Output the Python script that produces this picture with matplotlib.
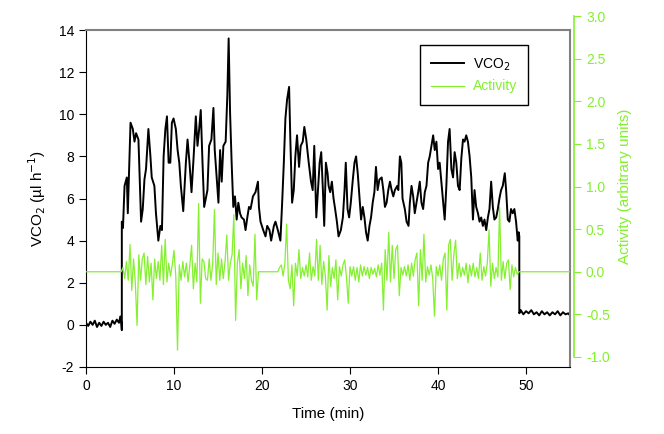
import matplotlib
matplotlib.use('Agg')
import matplotlib.pyplot as plt
import numpy as np

plt.rcParams['font.family'] = ['Liberation Sans', 'DejaVu Sans']
plt.rcParams['axes.unicode_minus'] = False

GREEN = '#84F030'

# VCO2 trace (min, ul/h)
vco2_t = [0.0, 0.25, 0.5, 0.75, 1.0, 1.25, 1.5, 1.75, 2.0, 2.25, 2.5, 2.75, 3.0, 3.25, 3.5, 3.75, 3.9, 4.0, 4.07,
          4.07, 4.2, 4.38, 4.64, 4.75, 5.06, 5.32, 5.51, 5.69, 5.96, 6.26, 6.45, 6.64, 6.82, 7.09, 7.32, 7.47, 7.77,
          7.95, 8.22, 8.45, 8.63, 8.82, 9.02, 9.20, 9.39, 9.58, 9.76, 9.95, 10.21, 10.41, 10.60, 10.78, 11.05,
          11.35, 11.54, 11.76, 11.99, 12.22, 12.48, 12.67, 12.86, 13.04, 13.24, 13.43, 13.61, 13.80, 13.99,
          14.25, 14.48, 14.63, 14.82, 15.05, 15.24, 15.42, 15.61, 15.87, 16.06, 16.21, 16.37, 16.55, 16.74,
          16.93, 17.12, 17.31, 17.50, 17.68, 17.95, 18.13, 18.33, 18.52, 18.70, 18.97, 19.26, 19.54, 19.65,
          19.83, 20.14, 20.40, 20.59, 20.85, 21.04, 21.35, 21.53, 21.80, 22.09, 22.29, 22.48, 22.66, 22.85,
          23.08, 23.22, 23.42, 23.61, 23.79, 23.98, 24.21, 24.40, 24.63, 24.81, 25.03, 25.31, 25.57, 25.76,
          25.94, 26.17, 26.36, 26.55, 26.73, 26.92, 27.07, 27.26, 27.45, 27.57, 27.75, 27.94, 28.13, 28.31,
          28.51, 28.70, 28.96, 29.19, 29.38, 29.52, 29.72, 29.90, 30.09, 30.32, 30.51, 30.69, 30.88, 31.07,
          31.26, 31.45, 31.64, 31.82, 32.01, 32.21, 32.39, 32.58, 32.77, 32.95, 33.14, 33.34, 33.60, 33.79,
          33.97, 34.16, 34.35, 34.54, 34.73, 34.92, 35.10, 35.37, 35.49, 35.67, 35.83, 35.97, 36.23, 36.43,
          36.65, 36.80, 36.99, 37.18, 37.36, 37.56, 37.75, 37.93, 38.12, 38.31, 38.50, 38.69, 38.88, 39.06,
          39.25, 39.45, 39.63, 39.82, 40.01, 40.19, 40.38, 40.58, 40.76, 40.95, 41.14, 41.32, 41.52, 41.71,
          41.89, 42.08, 42.27, 42.46, 42.65, 42.84, 43.02, 43.21, 43.40, 43.59, 43.78, 43.97, 44.15, 44.34,
          44.54, 44.72, 44.91, 45.10, 45.28, 45.48, 45.67, 45.85, 46.04, 46.23, 46.41, 46.61, 46.80, 46.98,
          47.17, 47.36, 47.59, 47.74, 47.93, 48.11, 48.30, 48.49, 48.68, 48.87, 49.06, 49.17, 49.24,
          49.24, 49.4, 49.7, 50.0, 50.3, 50.6, 50.9, 51.2, 51.5, 51.8, 52.1, 52.4, 52.7, 53.0, 53.3, 53.6,
          53.9, 54.2, 54.5, 54.8, 55.0]
vco2_v = [0.1, -0.05, 0.15, 0.0, 0.2, -0.1, 0.1, -0.05, 0.15, 0.0, 0.1, -0.1, 0.2, 0.05, 0.25, 0.1, 0.4, 0.15, -0.25,
          4.9, 4.6, 6.6, 7.0, 5.3, 9.6, 9.3, 8.7, 9.1, 8.8, 4.9, 5.5, 6.9, 7.4, 9.3, 8.0, 7.0, 6.6,
          5.3, 4.0, 4.7, 4.5, 8.0, 9.3, 9.9, 7.7, 7.7, 9.6, 9.8, 9.3, 8.3, 7.7, 6.6, 5.4,
          7.7, 8.8, 7.7, 6.3, 7.9, 9.9, 8.5, 9.3, 10.2, 7.7, 5.6, 6.0, 6.4, 8.5,
          8.8, 10.3, 8.3, 7.2, 5.8, 8.3, 6.8, 8.5, 8.7, 10.9, 13.6, 10.1, 7.7, 5.6,
          6.1, 5.0, 5.8, 5.3, 5.1, 5.0, 4.5, 5.1, 5.6, 5.5, 6.1, 6.3, 6.8, 5.6,
          4.9, 4.5, 4.2, 4.7, 4.5, 4.0, 4.7, 4.9, 4.5, 4.0, 5.8, 7.7, 9.8, 10.7,
          11.3, 8.8, 5.8, 6.4, 8.0, 9.0, 7.5, 8.5, 8.7, 9.4, 8.8, 7.7, 6.8, 6.4,
          8.5, 5.1, 6.4, 7.7, 8.2, 6.4, 4.7, 7.7, 7.2, 6.6, 6.3, 6.8, 6.0, 5.5,
          4.9, 4.2, 4.5, 5.1, 6.4, 7.7, 5.5, 5.1, 5.8, 6.9, 7.7, 8.0, 7.2, 6.1,
          5.0, 5.6, 5.1, 4.4, 4.0, 4.7, 5.1, 5.8, 6.3, 7.5, 6.4, 6.9, 7.0, 6.4,
          5.6, 5.8, 6.4, 6.8, 6.4, 6.1, 6.4, 6.6, 6.4, 8.0, 7.7, 6.0, 5.5, 4.9,
          4.7, 5.8, 6.6, 6.1, 5.3, 5.8, 6.3, 6.8, 5.8, 5.5, 6.3, 6.6, 7.7, 8.0,
          8.5, 9.0, 8.3, 8.7, 7.4, 7.7, 6.8, 5.8, 5.0, 6.6, 8.7, 9.3, 7.4, 7.0,
          8.2, 7.7, 6.6, 6.4, 7.9, 8.8, 8.7, 9.0, 8.7, 8.0, 7.0, 5.0, 6.4, 5.6,
          5.3, 4.9, 5.1, 4.7, 5.0, 4.5, 5.1, 5.5, 6.8, 5.6, 5.0, 5.1, 5.5, 6.0,
          6.4, 6.6, 7.2, 6.4, 5.0, 4.9, 5.5, 5.3, 5.5, 4.9, 4.0, 4.4, 4.2,
          0.55, 0.7, 0.5, 0.65, 0.55, 0.7, 0.5, 0.6, 0.45, 0.65, 0.5, 0.6, 0.45, 0.6, 0.5, 0.65,
          0.45, 0.6, 0.5, 0.55, 0.45]

# activity (arbitrary units), sampled every 0.2 min from 4.2 to 49.2 min
act_start = 4.2
act_step = 0.2
act_v = [0.05, -0.08, 0.12, -0.1, 0.32, -0.22, 0.15, -0.12, -0.63, 0.2,
         -0.1, 0.15, 0.22, -0.15, 0.18, -0.12, 0.1, -0.33, 0.15, -0.08,
         0.12, -0.1, 0.31, -0.15, 0.38, -0.12, 0.1, -0.05, 0.08, 0.25,
         -0.05, -0.92, 0.08, -0.1, 0.12, -0.06, 0.1, -0.12, 0.08, 0.31,
         -0.2, 0.1, -0.12, 0.8, -0.37, 0.15, 0.12, -0.08, -0.1, 0.15,
         -0.1, 0.1, 0.73, -0.15, 0.22, -0.1, 0.15, -0.08, 0.12, 0.43,
         -0.1, 0.1, 0.2, 0.67, -0.57, 0.1, 0.26, -0.2, 0.1, -0.08,
         0.19, -0.28, 0.08, -0.1, -0.17, 0.44, -0.33, 0.0, 0.0, 0.0,
         0.0, 0.0, 0.0, 0.0, 0.0, 0.0, 0.0, 0.0, 0.0, 0.05,
         0.08, -0.05, 0.1, 0.56, -0.1, -0.2, 0.08, -0.4, 0.1, -0.05,
         0.26, -0.08, 0.05, -0.05, 0.08, -0.06, 0.22, -0.1, 0.06, -0.05,
         0.38, -0.1, 0.31, -0.15, 0.12, -0.05, -0.45, 0.19, -0.17, 0.05,
         -0.08, 0.14, -0.33, 0.06, -0.05, 0.08, 0.14, -0.06, -0.37, 0.06,
         -0.05, 0.06, -0.1, 0.05, -0.12, 0.08, -0.05, 0.06, -0.04, 0.05,
         -0.08, 0.05, -0.03, 0.04, -0.06, 0.08, -0.04, 0.1, -0.45, 0.26,
         -0.1, 0.46, -0.12, 0.31, -0.08, 0.26, 0.31, -0.28, 0.05, -0.04,
         0.06, -0.05, 0.08, -0.1, 0.1, -0.05, 0.14, 0.22, -0.4, 0.26,
         -0.1, 0.44, -0.12, 0.06, -0.04, 0.08, -0.08, -0.52, 0.06, -0.05,
         0.08, -0.1, 0.15, 0.22, -0.45, 0.31, 0.38, -0.1, 0.2, 0.37,
         -0.08, 0.1, -0.06, 0.05, -0.04, 0.1, -0.13, 0.08, -0.05, 0.1,
         -0.06, 0.05, -0.08, 0.22, -0.1, 0.06, -0.05, 0.1, 0.49, -0.17,
         0.1, -0.08, 0.05, -0.06, 0.76, -0.1, 0.12, -0.08, 0.1, 0.14,
         -0.21, 0.08, -0.06, 0.05, -0.03, 0.0]

act_t = np.concatenate([[0.0, 4.0], act_start + act_step * np.arange(len(act_v)), [55.0]])
act_all = np.concatenate([[0.0, 0.0], act_v, [0.0]])

fig = plt.figure(figsize=(6.64, 4.34), dpi=100)
ax = fig.add_axes([86 / 664, 1 - 367 / 434, (570 - 86) / 664, (367 - 30) / 434])
ax2 = fig.add_axes([86 / 664, 1 - 357 / 434, (570 - 86) / 664, (357 - 16) / 434])
ax2.patch.set_visible(False)

line1, = ax.plot(vco2_t, vco2_v, color='black', lw=1.4, label='VCO$_2$')
line2, = ax2.plot(act_t, act_all, color=GREEN, lw=0.9, label='Activity')

ax.set_xlim(0, 55)
ax.set_ylim(-2, 14)
ax.set_xticks([0, 10, 20, 30, 40, 50])
ax.set_yticks(range(-2, 15, 2))
ax.tick_params(direction='out', length=5, labelsize=10, width=0.8)
ax.spines['top'].set_color('#808080')
ax.spines['right'].set_color('#808080')
ax.spines['top'].set_linewidth(1.5)
ax.spines['right'].set_linewidth(1.5)
ax.set_xlabel('Time (min)', fontsize=11, labelpad=10)
ax.set_ylabel('VCO$_2$ (\u00b5l h$^{-1}$)', fontsize=11, labelpad=8)

ax2.set_xlim(0, 55)
ax2.set_ylim(-1.0, 3.0)
ax2.set_yticks(np.arange(-1.0, 3.01, 0.5))
ax2.yaxis.set_major_formatter(matplotlib.ticker.FormatStrFormatter('%.1f'))
ax2.yaxis.tick_right()
ax2.yaxis.set_label_position('right')
ax2.set_xticks([])
for s in ['left', 'top', 'bottom']:
    ax2.spines[s].set_visible(False)
ax2.spines['right'].set_color(GREEN)
ax2.spines['right'].set_linewidth(1.2)
ax2.spines['right'].set_position(('outward', 3))
ax2.tick_params(axis='y', direction='out', length=5, labelsize=10, colors=GREEN, width=0.8)
ax2.set_ylabel('Activity (arbitrary units)', fontsize=11, color=GREEN, labelpad=6)

leg = ax2.legend([line1, line2], ['VCO$_2$', 'Activity'], loc='upper left',
                 bbox_to_anchor=(420 / 664, 1 - 45 / 434), bbox_transform=fig.transFigure,
                 borderaxespad=0, fancybox=False, framealpha=1, edgecolor='black',
                 fontsize=10, handlelength=2.4, handletextpad=0.6, borderpad=0.8,
                 labelspacing=0.5)
leg.get_frame().set_linewidth(1.0)
leg.get_texts()[1].set_color(GREEN)

fig.savefig('out.png', dpi=100)
